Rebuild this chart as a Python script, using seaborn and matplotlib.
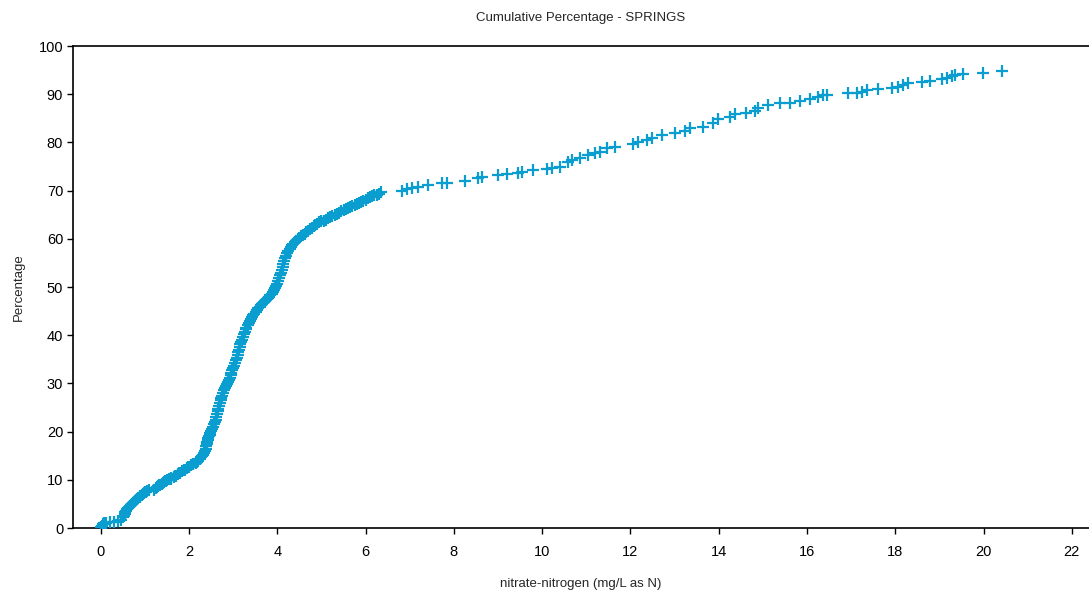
import pandas as pd
import seaborn as sns
import matplotlib
matplotlib.use('Agg')
import matplotlib.pyplot as plt

# nitrate values (mg/L as N) and their cumulative percentage
nitrate = [
    0.00, 0.02, 0.05, 0.08, 0.12, 0.20, 0.30, 0.38, 0.45, 0.50,
    0.54, 0.58, 0.62, 0.66, 0.70, 0.75, 0.80, 0.85, 0.90, 0.95,
    1.00, 1.05, 1.10, 1.20, 1.25, 1.30, 1.35, 1.40, 1.45, 1.50,
    1.55, 1.60, 1.65, 1.70, 1.75, 1.80, 1.85, 1.90, 1.95, 2.00,
    2.05, 2.10, 2.15, 2.20, 2.25, 2.30, 2.35, 2.38, 2.40, 2.42,
    2.45, 2.48, 2.52, 2.56, 2.60, 2.63, 2.66, 2.70, 2.73, 2.77,
    2.81, 2.85, 2.90, 2.94, 2.98, 3.02, 3.06, 3.10, 3.13, 3.16,
    3.20, 3.24, 3.28, 3.33, 3.38, 3.43, 3.48, 3.54, 3.60, 3.66,
    3.72, 3.78, 3.84, 3.90, 3.95, 4.00, 4.04, 4.08, 4.12, 4.16,
    4.20, 4.25, 4.30, 4.36, 4.42, 4.50, 4.58, 4.66, 4.74, 4.82,
    4.90, 5.00, 5.10, 5.20, 5.30, 5.40, 5.50, 5.60, 5.70, 5.80,
    5.90, 6.00, 6.10, 6.20, 6.30, 6.36,
    6.82, 6.93, 7.05, 7.18, 7.41, 7.73, 7.84, 8.25, 8.54, 8.63,
    8.99, 9.20, 9.45, 9.54, 9.79, 10.10, 10.22, 10.40, 10.58, 10.67,
    10.85, 11.03, 11.19, 11.30, 11.46, 11.64, 12.05, 12.17, 12.37, 12.50,
    12.71, 13.00, 13.23, 13.34, 13.64, 13.86, 13.98, 14.25, 14.36, 14.63,
    14.82, 14.88, 15.11, 15.38, 15.61, 15.84, 16.06, 16.24, 16.36, 16.45,
    16.92, 17.13, 17.24, 17.35, 17.60, 17.92, 18.06, 18.17, 18.28, 18.60,
    18.78, 19.05, 19.17, 19.28, 19.35, 19.53, 19.98, 20.41,
]
percentage = [
    0.3, 0.5, 0.8, 1.0, 1.1, 1.2, 1.3, 1.4, 1.7, 2.2,
    3.0, 3.6, 4.1, 4.5, 5.0, 5.4, 5.8, 6.3, 6.7, 7.1,
    7.4, 7.7, 7.9, 8.0, 8.3, 8.7, 9.0, 9.4, 9.7, 9.9,
    10.1, 10.3, 10.6, 10.9, 11.2, 11.5, 11.8, 12.1, 12.4, 12.7,
    13.0, 13.3, 13.6, 14.0, 14.4, 14.9, 15.6, 16.5, 17.4, 18.2,
    19.0, 19.8, 20.6, 21.5, 22.5, 23.6, 24.7, 25.9, 27.0, 28.1,
    29.0, 29.9, 30.8, 31.7, 32.7, 33.7, 34.8, 35.9, 37.0, 38.1,
    39.1, 40.2, 41.2, 42.1, 43.0, 43.8, 44.5, 45.2, 45.9, 46.5,
    47.1, 47.7, 48.3, 49.0, 49.8, 50.7, 51.8, 53.0, 54.2, 55.4,
    56.5, 57.5, 58.3, 59.0, 59.6, 60.2, 60.8, 61.4, 62.0, 62.6,
    63.1, 63.6, 64.0, 64.5, 65.0, 65.4, 65.9, 66.4, 66.8, 67.3,
    67.7, 68.1, 68.6, 69.0, 69.4, 69.7,
    69.9, 70.3, 70.5, 70.8, 71.2, 71.6, 71.6, 72.0, 72.6, 72.8,
    73.2, 73.4, 73.7, 73.9, 74.3, 74.5, 74.7, 74.9, 75.9, 76.3,
    76.8, 77.4, 77.8, 78.0, 78.8, 79.0, 79.7, 80.1, 80.5, 80.9,
    81.5, 82.0, 82.4, 83.0, 83.2, 84.0, 84.9, 85.3, 85.9, 86.1,
    86.5, 87.1, 87.8, 88.2, 88.2, 88.6, 89.0, 89.4, 89.8, 89.8,
    90.2, 90.3, 90.5, 90.9, 91.1, 91.3, 91.5, 91.9, 92.3, 92.5,
    92.7, 93.2, 93.4, 93.8, 94.0, 94.2, 94.4, 94.8,
]

# more samples from the crowded part of the curve (x < 6.4)
nitrate_dense = [
    0.52, 0.56, 0.60, 0.64, 0.68, 0.72, 0.78, 0.83, 0.88, 0.93, 0.98, 1.02,
    1.28, 1.33, 1.38, 1.43, 1.48, 1.58, 1.68, 1.78, 1.88, 1.98, 2.08, 2.18, 2.28,
    2.32, 2.36, 2.39, 2.41, 2.44, 2.47, 2.50, 2.54, 2.58, 2.62, 2.65, 2.68,
    2.72, 2.75, 2.79, 2.83, 2.88, 2.92, 2.96, 3.00, 3.04, 3.08, 3.12, 3.15,
    3.18, 3.22, 3.26, 3.30, 3.36, 3.41, 3.46, 3.51, 3.57, 3.63, 3.69, 3.75,
    3.81, 3.87, 3.93, 3.98, 4.02, 4.06, 4.10, 4.14, 4.18, 4.22, 4.28, 4.33,
    4.39, 4.46, 4.54, 4.62, 4.70, 4.78, 4.86, 4.95, 5.05, 5.15, 5.25, 5.35,
    5.45, 5.55, 5.65, 5.75, 5.85, 5.95, 6.05, 6.15, 6.25,
]
percentage_dense = [
    2.6, 3.3, 3.9, 4.3, 4.8, 5.2, 5.6, 6.1, 6.5, 6.9, 7.3, 7.5,
    8.5, 8.9, 9.2, 9.6, 9.8, 10.2, 10.8, 11.4, 12.0, 12.6, 13.2, 13.8, 14.7,
    15.2, 16.0, 17.0, 17.8, 18.6, 19.4, 20.2, 21.0, 22.0, 23.0, 24.2, 25.3,
    26.5, 27.5, 28.6, 29.5, 30.3, 31.2, 32.2, 33.2, 34.2, 35.3, 36.5, 37.5,
    38.6, 39.6, 40.7, 41.6, 42.6, 43.4, 44.2, 44.9, 45.6, 46.2, 46.8, 47.4,
    48.0, 48.6, 49.4, 50.2, 51.2, 52.4, 53.6, 54.8, 56.0, 57.0, 57.9, 58.7,
    59.3, 59.9, 60.5, 61.1, 61.7, 62.3, 62.9, 63.4, 63.8, 64.3, 64.8, 65.2,
    65.7, 66.2, 66.6, 67.0, 67.5, 67.9, 68.4, 68.8, 69.2,
]

x_ticks = list(range(0, 23, 2))
y_ticks = list(range(0, 101, 10))

df = pd.DataFrame({'nitrate': nitrate + nitrate_dense,
                   'pct': percentage + percentage_dense})
df = df.sort_values('nitrate')

sns.set_style('white')
plt.rcParams['font.family'] = ['Liberation Sans', 'DejaVu Sans']

fig = plt.figure(figsize=(10.89, 5.94), dpi=100)
ax = fig.add_axes([0.067, 0.111, 0.933, 0.8115])

sns.scatterplot(x='nitrate', y='pct', data=df, marker='+', s=80,
                color='#0a9dcf', linewidth=1.6, ax=ax, zorder=3)

ax.set_xlim(-0.63, 22.39)
ax.set_ylim(0, 100)
ax.set_xticks(x_ticks)
ax.set_yticks(y_ticks)
ax.tick_params(axis='both', direction='out', length=4, width=1, colors='black',
               labelsize=10.5, bottom=True, left=True, pad=3)
ax.tick_params(axis='x', pad=8)

for side in ['left', 'bottom', 'top']:
    ax.spines[side].set_color('black')
    ax.spines[side].set_linewidth(1.2)
ax.spines['right'].set_visible(False)

ax.set_title('Cumulative Percentage - SPRINGS', fontsize=9.5, pad=18)
ax.set_xlabel('nitrate-nitrogen (mg/L as N)', fontsize=9.5, labelpad=14)
ax.set_ylabel('Percentage', fontsize=9.5, labelpad=10)

fig.savefig('out.png', dpi=100)
